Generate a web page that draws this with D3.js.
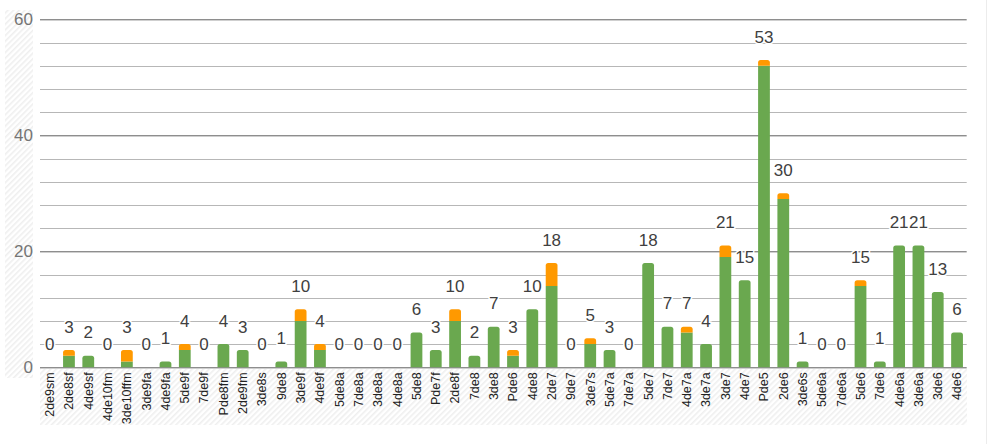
<!DOCTYPE html>
<html>
<head>
<meta charset="utf-8">
<script src="https://cdn.jsdelivr.net/npm/d3@7"></script>
<style>
  body { margin: 0; background: #fff; }
  svg { display: block; font-family: "Liberation Sans", Arial, sans-serif; }
</style>
</head>
<body>
<svg id="graphic" width="989" height="444"></svg>
<script>
const categories = ['2de9sm', '2de8sf', '4de9sf', '4de10fm', '3de10ffm', '3de9fa', '4de9fa', '5de9f', '7de9f', 'Pde8fm',
  '2de9fm', '3de8s', '9de8', '3de9f', '4de9f', '5de8a', '7de8a', '3de8a', '4de8a', '5de8',
  'Pde7f', '2de8f', '7de8', '3de8', 'Pde6', '4de8', '2de7', '9de7', '3de7s', '5de7a',
  '7de7a', '5de7', '7de7', '4de7a', '3de7a', '3de7', '4de7', 'Pde5', '2de6', '3de6s',
  '5de6a', '7de6a', '5de6', '7de6', '4de6a', '3de6a', '3de6', '4de6'];

const greenValues = [0, 2, 2, 0, 1, 0, 1, 3, 0, 4,
  3, 0, 1, 8, 3, 0, 0, 0, 0, 6,
  3, 8, 2, 7, 2, 10, 14, 0, 4, 3,
  0, 18, 7, 6, 4, 19, 15, 52, 29, 1,
  0, 0, 14, 1, 21, 21, 13, 6];

const orangeValues = [0, 1, 0, 0, 2, 0, 0, 1, 0, 0,
  0, 0, 0, 2, 1, 0, 0, 0, 0, 0,
  0, 2, 0, 0, 1, 0, 4, 0, 1, 0,
  0, 0, 0, 1, 0, 2, 0, 1, 1, 0,
  0, 0, 1, 0, 0, 0, 0, 0];

const yTicks = [0, 20, 40, 60];
const gridStep = 4;
const labelLift = 4;

const svg = d3.select('#graphic');
const plot = { left: 40, right: 966.7, top: 19.3, bottom: 367.3 };

const rows = categories.map((c, i) => ({ category: c, green: greenValues[i], orange: orangeValues[i] }));
const stacked = d3.stack().keys(['green', 'orange'])(rows);
const colors = { green: '#6aa84f', orange: '#ff9900' };

const xScale = d3.scaleBand()
    .domain(categories)
    .range([plot.left, plot.right])
    .paddingInner(0.39)
    .paddingOuter(0.195);

const yScale = d3.scaleLinear()
    .domain([0, 60])
    .range([plot.bottom, plot.top]);

// hatched background behind the axis labels
const defs = svg.append('defs');
const pat = defs.append('pattern')
    .attr('id', 'hatch')
    .attr('patternUnits', 'userSpaceOnUse')
    .attr('width', 4)
    .attr('height', 4)
    .attr('patternTransform', 'rotate(45)');
pat.append('rect').attr('width', 4).attr('height', 4).attr('fill', '#fff');
pat.append('rect').attr('width', 1.6).attr('height', 4).attr('fill', '#efefef');

svg.append('rect').attr('x', 5).attr('y', 10).attr('width', 28).attr('height', 368).attr('fill', 'url(#hatch)');
svg.append('rect').attr('x', 40).attr('y', 369).attr('width', 927).attr('height', 56).attr('fill', 'url(#hatch)');
svg.append('line').attr('x1', 986.5).attr('x2', 986.5).attr('y1', 0).attr('y2', 444)
    .attr('stroke', '#ececec');

// gridlines
const gridVals = d3.range(0, 61, gridStep).filter((v) => !yTicks.includes(v));
svg.append('g')
    .selectAll('line')
    .data(gridVals)
    .join('line')
    .attr('x1', plot.left)
    .attr('x2', plot.right)
    .attr('y1', (d) => Math.round(yScale(d)) + 0.5)
    .attr('y2', (d) => Math.round(yScale(d)) + 0.5)
    .attr('stroke', '#b7b7b7');

const yAxis = d3.axisLeft(yScale)
    .tickValues(yTicks)
    .tickSize(-(plot.right - plot.left))
    .tickPadding(7);

svg.append('g')
    .attr('transform', `translate(${plot.left}, 0)`)
    .call(yAxis)
    .call((g) => g.select('.domain').remove())
    .call((g) => g.selectAll('.tick line').attr('stroke', '#5f5f5f'))
    .call((g) => g.selectAll('.tick text')
        .attr('fill', '#757575')
        .attr('font-size', 17)
        .attr('font-family', '"Liberation Sans", Arial, sans-serif'));

// bars
function barPath(x, y0, y1, w, r) {
  const h = y0 - y1;
  r = Math.min(r, h / 2, w / 2);
  return `M${x},${y0}V${y1 + r}Q${x},${y1} ${x + r},${y1}H${x + w - r}Q${x + w},${y1} ${x + w},${y1 + r}V${y0}Z`;
}

stacked.forEach((layer, li) => {
  svg.append('g')
      .selectAll('path')
      .data(layer.filter((d) => d[1] > d[0]))
      .join('path')
      .attr('fill', colors[layer.key])
      .attr('d', (d) => {
        const isTop = li === stacked.length - 1 || d.data.orange === 0;
        return barPath(xScale(d.data.category), yScale(d[0]), yScale(d[1]), xScale.bandwidth(), isTop ? 2.5 : 0);
      });
});

// x axis
const xAxis = d3.axisBottom(xScale).tickSize(0).tickPadding(0);
svg.append('g')
    .attr('transform', `translate(0, ${plot.bottom})`)
    .call(xAxis)
    .call((g) => g.select('.domain').remove())
    .call((g) => g.selectAll('.tick text')
        .attr('transform', 'rotate(-90)')
        .attr('text-anchor', 'end')
        .attr('x', -5)
        .attr('y', 0)
        .attr('dy', '0.35em')
        .attr('fill', '#222')
        .attr('font-size', 12.5)
        .attr('font-family', '"Liberation Sans", Arial, sans-serif'));

// data labels
svg.append('g')
    .selectAll('text')
    .data(rows)
    .join('text')
    .attr('x', (d) => xScale(d.category) + xScale.bandwidth() / 2)
    .attr('y', (d) => yScale(d.green + d.orange + labelLift))
    .attr('dy', '0.35em')
    .attr('text-anchor', 'middle')
    .attr('font-size', 17)
    .attr('fill', '#404040')
    .attr('stroke', '#fff')
    .attr('stroke-width', 3)
    .attr('paint-order', 'stroke')
    .text((d) => d.green + d.orange);
</script>
</body>
</html>
